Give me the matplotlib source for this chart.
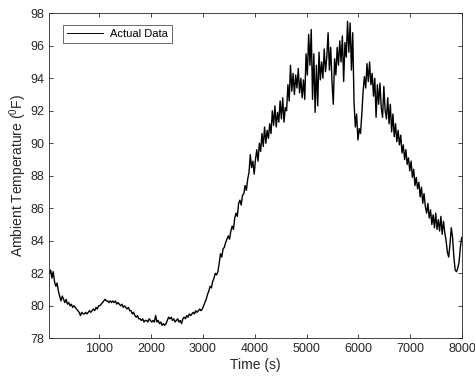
import numpy as np
import matplotlib
matplotlib.use("Agg")
import matplotlib.pyplot as plt

plt.rcParams['font.family'] = ['Liberation Sans', 'DejaVu Sans']
plt.rcParams['mathtext.fontset'] = 'custom'
plt.rcParams['mathtext.rm'] = 'Liberation Sans'
plt.rcParams['mathtext.it'] = 'Liberation Sans'

t_start = 40
t_step = 25

temperature = [
    82.0, 82.2, 81.7, 82.1, 81.5, 81.2, 81.4, 80.9, 80.6, 80.3,
    80.6, 80.4, 80.2, 80.4, 80.1, 80.2, 80.0, 80.1, 79.9, 80.0,
    79.9, 79.8, 79.7, 79.6, 79.4, 79.6, 79.5, 79.5, 79.6, 79.5,
    79.6, 79.7, 79.6, 79.7, 79.8, 79.7, 79.9, 79.8, 80.0, 80.0,
    80.1, 80.2, 80.3, 80.4, 80.3, 80.3, 80.2, 80.3, 80.2, 80.3,
    80.2, 80.3, 80.1, 80.2, 80.1, 80.0, 80.1, 79.9, 80.0, 79.9,
    79.8, 79.9, 79.7, 79.7, 79.5, 79.6, 79.4, 79.3, 79.4, 79.2,
    79.2, 79.1, 79.2, 79.0, 79.1, 79.1, 79.0, 79.2, 79.1, 79.0,
    79.1, 79.0, 79.4, 79.0, 79.1, 78.9, 79.0, 78.8, 78.9, 78.8,
    78.9, 79.1, 79.3, 79.2, 79.3, 79.1, 79.2, 79.0, 79.1, 79.2,
    79.0, 79.1, 78.9, 79.2, 79.3, 79.2, 79.4, 79.3, 79.5, 79.4,
    79.5, 79.6, 79.5, 79.7, 79.6, 79.7, 79.8, 79.7, 79.8, 80.0,
    80.2, 80.4, 80.7, 80.9, 81.2, 81.1, 81.5, 81.7, 82.0, 81.9,
    82.1, 82.6, 83.2, 83.0, 83.5, 83.6, 83.9, 84.1, 84.3, 84.1,
    84.6, 84.9, 84.7, 85.4, 85.7, 85.5, 86.3, 86.5, 86.2, 86.8,
    86.9, 87.4, 87.1, 87.8, 88.2, 89.3, 88.5, 88.9, 88.1, 89.0,
    89.6, 88.9, 90.0, 89.5, 90.6, 89.8, 91.0, 90.0, 90.8, 90.3,
    91.2, 90.6, 92.0, 91.1, 92.3, 91.0, 91.9, 91.3, 92.6, 91.5,
    92.8, 91.3, 92.2, 92.0, 93.6, 92.6, 94.8, 93.2, 94.3, 93.0,
    94.2, 93.4, 94.6, 93.1, 94.0, 92.8, 93.9, 92.7, 95.5, 94.2,
    96.7, 94.8, 97.0, 92.7, 95.5, 91.9, 94.8, 92.3, 95.6, 93.9,
    95.0, 94.0, 95.8, 94.4, 95.3, 96.8, 94.5, 95.9, 93.8, 92.4,
    95.2, 94.2, 95.9, 94.8, 96.3, 95.0, 96.6, 93.8, 96.2, 95.3,
    97.5, 95.6, 97.4, 94.5, 96.8, 92.5, 91.0, 91.8, 90.2, 90.9,
    90.6, 91.8, 93.2, 94.1, 93.4, 94.9, 93.8, 95.0, 93.6, 94.3,
    92.9, 94.0, 91.6, 93.6, 92.4, 93.7, 92.2, 91.6, 93.5, 92.0,
    91.5, 92.8, 91.2, 92.4, 90.7, 91.8, 90.4, 91.2, 90.1, 90.8,
    89.9, 90.5, 89.4, 89.9, 89.0, 89.6, 88.7, 89.1, 88.3, 88.9,
    87.9, 88.4, 87.4, 87.9, 87.2, 87.6, 86.7, 87.3, 86.3, 86.9,
    86.1, 85.7, 86.3, 85.4, 85.9, 85.0, 85.6, 84.8, 85.7, 84.7,
    85.3, 84.6, 85.5, 84.4, 85.2, 84.5, 84.0, 83.3, 83.0, 83.8,
    84.8, 84.2, 83.0, 82.2, 82.1, 82.3, 82.7, 83.6, 84.2,
]
time_s = t_start + t_step * np.arange(len(temperature))

x_ticks = [1000, 2000, 3000, 4000, 5000, 6000, 7000, 8000]
y_ticks = [78, 80, 82, 84, 86, 88, 90, 92, 94, 96, 98]

fig = plt.figure(figsize=(4.75, 3.78), dpi=100)
ax = fig.add_axes([0.1038, 0.105, 0.8692, 0.860])
ax.plot(time_s, temperature, color='black', lw=1.0, label='Actual Data')
ax.set_xlim(40, 8000)
ax.set_ylim(78, 98)
ax.set_xticks(x_ticks)
ax.set_yticks(y_ticks)
axc = '#262626'
for s in ax.spines.values():
    s.set_color(axc)
    s.set_linewidth(0.6)
ax.tick_params(direction='in', length=3, width=0.6, colors=axc, labelsize=9,
               top=True, right=True, labelcolor=axc)
ax.set_xlabel('Time (s)', fontsize=10, color=axc, labelpad=2)
ax.set_ylabel('Ambient Temperature ($^0$F)', fontsize=10, color=axc, labelpad=1)
leg = ax.legend(loc='upper left', bbox_to_anchor=(0.033, 0.965), fontsize=8,
                frameon=True, fancybox=False, handlelength=3.2, borderpad=0.4,
                handletextpad=0.6, borderaxespad=0)
leg.get_frame().set_edgecolor(axc)
leg.get_frame().set_linewidth(0.6)
legline = leg.get_lines()[0]
legline.set_linewidth(0.7)
fig.savefig('out.png', dpi=100)
